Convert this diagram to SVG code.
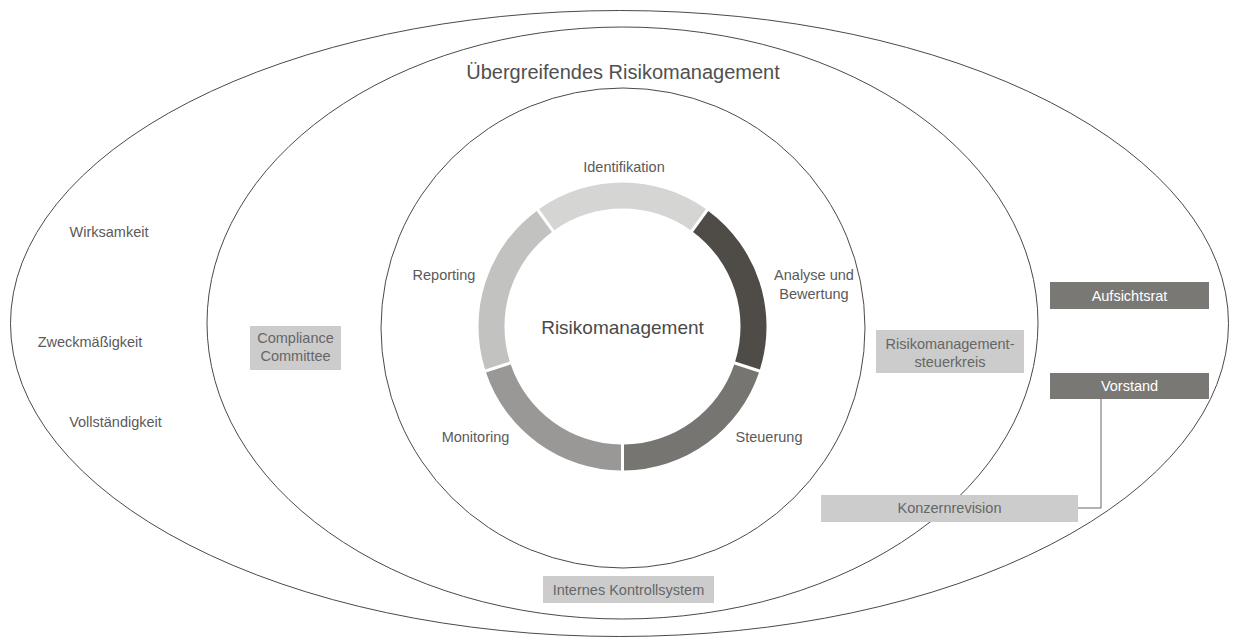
<svg xmlns="http://www.w3.org/2000/svg" width="1239" height="643" viewBox="0 0 1239 643">
<style>
.ell{fill:none;stroke:#4a4a4a;stroke-width:1}
.lbl{font-family:"Liberation Sans",Arial,sans-serif;font-size:14.5px;fill:#5a5a5a;text-anchor:middle}
.title{font-family:"Liberation Sans",Arial,sans-serif;font-size:20px;fill:#505050;text-anchor:middle}
.center{font-family:"Liberation Sans",Arial,sans-serif;font-size:19px;fill:#4a4a4a;text-anchor:middle}
.boxL{fill:#cccccc}
.boxD{fill:#7a7874}
.txtL{font-family:"Liberation Sans",Arial,sans-serif;font-size:14.5px;fill:#666666;text-anchor:middle}
.txtD{font-family:"Liberation Sans",Arial,sans-serif;font-size:14.5px;fill:#ffffff;text-anchor:middle}
.conn{fill:none;stroke:#666666;stroke-width:1}
</style>
<rect x="0" y="0" width="1239" height="643" fill="#ffffff"/>
<g id="outer-ellipse">
<ellipse class="ell" cx="619.5" cy="323.5" rx="609" ry="313"/>
<text class="lbl" x="109" y="237">Wirksamkeit</text>
<text class="lbl" x="90" y="347">Zweckmäßigkeit</text>
<text class="lbl" x="115.5" y="427">Vollständigkeit</text>
</g>
<g id="middle-ellipse">
<ellipse class="ell" cx="622.5" cy="323" rx="415.5" ry="296"/>
<text class="title" x="623" y="79">Übergreifendes Risikomanagement</text>
</g>
<g id="inner-ellipse">
<ellipse class="ell" cx="623" cy="328" rx="242" ry="240"/>
</g>
<g id="ring">
<path id="seg-identifikation" fill="#d5d6d4" d="M 539.07 209.12 A 144 144 0 0 1 705.93 209.12 L 690.64 230.16 A 118 118 0 0 0 554.36 230.16 Z"/>
<path id="seg-analyse" fill="#4f4b47" d="M 708.36 210.88 A 144 144 0 0 1 759.92 369.57 L 735.19 361.54 A 118 118 0 0 0 693.07 231.92 Z"/>
<path id="seg-steuerung" fill="#777571" d="M 758.99 372.43 A 144 144 0 0 1 624.00 470.49 L 624.00 444.49 A 118 118 0 0 0 734.26 364.39 Z"/>
<path id="seg-monitoring" fill="#9a9896" d="M 621.00 470.49 A 144 144 0 0 1 486.01 372.43 L 510.74 364.39 A 118 118 0 0 0 621.00 444.49 Z"/>
<path id="seg-reporting" fill="#c2c2c1" d="M 485.08 369.57 A 144 144 0 0 1 536.64 210.88 L 551.93 231.92 A 118 118 0 0 0 509.81 361.54 Z"/>
<text class="center" x="622.5" y="334">Risikomanagement</text>
</g>
<g id="label-identifikation"><text class="lbl" x="624" y="172">Identifikation</text></g>
<g id="label-analyse"><text class="lbl" x="814" y="280">Analyse und</text><text class="lbl" x="814" y="299">Bewertung</text></g>
<g id="label-steuerung"><text class="lbl" x="769" y="442">Steuerung</text></g>
<g id="label-monitoring"><text class="lbl" x="475.5" y="442">Monitoring</text></g>
<g id="label-reporting"><text class="lbl" x="444" y="280">Reporting</text></g>
<g id="compliance-committee">
<rect class="boxL" x="250" y="326" width="91" height="44"/>
<text class="txtL" x="295.5" y="343">Compliance</text>
<text class="txtL" x="295.5" y="361">Committee</text>
</g>
<g id="steuerkreis">
<rect class="boxL" x="876" y="330" width="148" height="43"/>
<text class="txtL" x="950" y="349">Risikomanagement-</text>
<text class="txtL" x="950" y="367">steuerkreis</text>
</g>
<g id="aufsichtsrat">
<rect class="boxD" x="1050" y="282" width="159" height="27"/>
<text class="txtD" x="1129.5" y="301">Aufsichtsrat</text>
</g>
<g id="vorstand">
<rect class="boxD" x="1050" y="373" width="159" height="26"/>
<text class="txtD" x="1129.5" y="391">Vorstand</text>
</g>
<g id="konzernrevision">
<rect class="boxL" x="821" y="495" width="257" height="27"/>
<text class="txtL" x="949.5" y="513">Konzernrevision</text>
</g>
<g id="internes-kontrollsystem">
<rect class="boxL" x="543" y="576" width="171" height="27"/>
<text class="txtL" x="628.5" y="595">Internes Kontrollsystem</text>
</g>
<g id="connectors">
<polyline class="conn" points="1101,399 1101,508 1078,508"/>
</g>
</svg>
